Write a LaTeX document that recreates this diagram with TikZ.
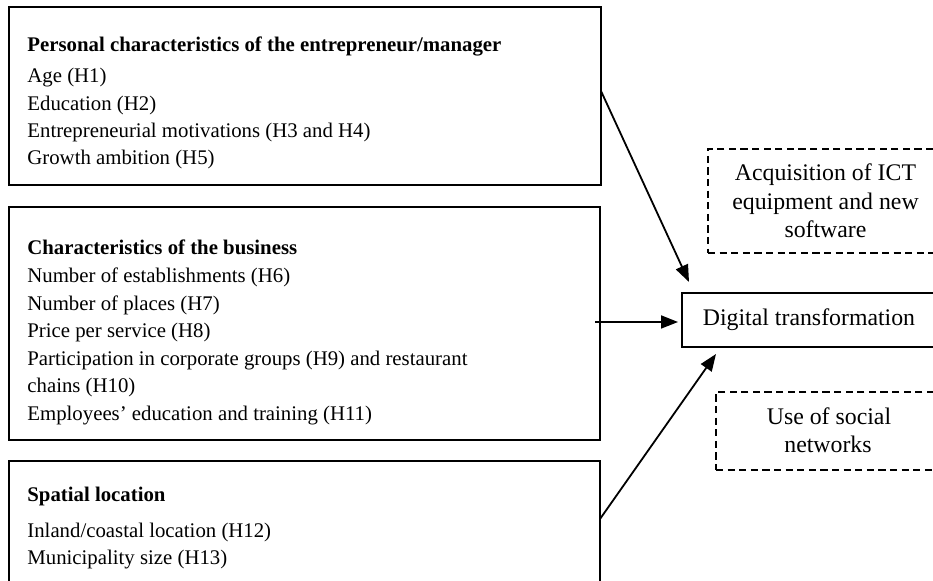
\documentclass[tikz,border=0pt]{standalone}
\usepackage{fontspec}
\setmainfont{Liberation Serif}
\usetikzlibrary{arrows.meta,positioning}
\tikzset{
  box/.style={draw, line width=0.9pt, rectangle, inner sep=0pt, outer sep=0pt, anchor=north west},
  dbox/.style={box, dash pattern=on 3.6pt off 2.2pt},
  ltxt/.style={anchor=base west, inner sep=0pt, font=\fontsize{10.4pt}{12.5pt}\selectfont},
  ltitle/.style={ltxt, font=\fontsize{10.4pt}{12.5pt}\selectfont\bfseries},
  rtxt/.style={anchor=base, inner sep=0pt, font=\fontsize{11.9pt}{14pt}\selectfont},
  arr/.style={line width=0.9pt, -{Triangle[length=8.5pt,width=6.5pt]}}
}
\begin{document}
\begin{tikzpicture}[x=0.5pt,y=-0.5pt]
\useasboundingbox (0,0) rectangle (933,581);
\clip (0,0) rectangle (933,581);
% boxes
\node[box, minimum width=296pt, minimum height=89pt] (b1) at (9,7) {};
\node[box, minimum width=295.5pt, minimum height=116.5pt] (b2) at (9,207) {};
\node[box, minimum width=295.5pt, minimum height=75pt] (b3) at (9,461) {};
\node[box, minimum width=139pt, minimum height=27pt] (dt) at (682,293) {};
\node[dbox, minimum width=126pt, minimum height=52pt] (d1) at (708,149) {};
\node[dbox, minimum width=122pt, minimum height=39pt] (d2) at (716,392) {};
% box 1 text
\node[ltitle] (t11) at (27,52) {Personal characteristics of the entrepreneur/manager};
\node[ltxt] (t12) at (27,83) {Age (H1)};
\node[ltxt] (t13) at (27,110.5) {Education (H2)};
\node[ltxt] (t14) at (27,138) {Entrepreneurial motivations (H3 and H4)};
\node[ltxt] (t15) at (27,165) {Growth ambition (H5)};
% box 2 text
\node[ltitle] (t21) at (27,255) {Characteristics of the business};
\node[ltxt] (t22) at (27,283) {Number of establishments (H6)};
\node[ltxt] (t23) at (27,311) {Number of places (H7)};
\node[ltxt] (t24) at (27,338) {Price per service (H8)};
\node[ltxt] (t25) at (27,366) {Participation in corporate groups (H9) and restaurant};
\node[ltxt] (t26) at (27,393) {chains (H10)};
\node[ltxt] (t27) at (27,421) {Employees’ education and training (H11)};
% box 3 text
\node[ltitle] (t31) at (27,502) {Spatial location};
\node[ltxt] (t32) at (27,538) {Inland/coastal location (H12)};
\node[ltxt] (t33) at (27,565) {Municipality size (H13)};
% right texts
\node[rtxt] (dtt) at (809,326) {Digital transformation};
\node[rtxt] (a1) at (825.5,181) {Acquisition of ICT};
\node[rtxt] (a2) at (825.5,210) {equipment and new};
\node[rtxt] (a3) at (825.5,238) {software};
\node[rtxt] (u1) at (829,425) {Use of social};
\node[rtxt] (u2) at (828,453) {networks};
% arrows
\coordinate (s1) at (601,91);
\coordinate (e1) at (689,282);
\coordinate (s2) at (595,322);
\coordinate (e2) at (678,322);
\coordinate (s3) at (600,519);
\coordinate (e3) at (716,354);
\draw[arr] (s1) -- (e1);
\draw[arr] (s2) -- (e2);
\draw[arr] (s3) -- (e3);
\end{tikzpicture}
\end{document}
